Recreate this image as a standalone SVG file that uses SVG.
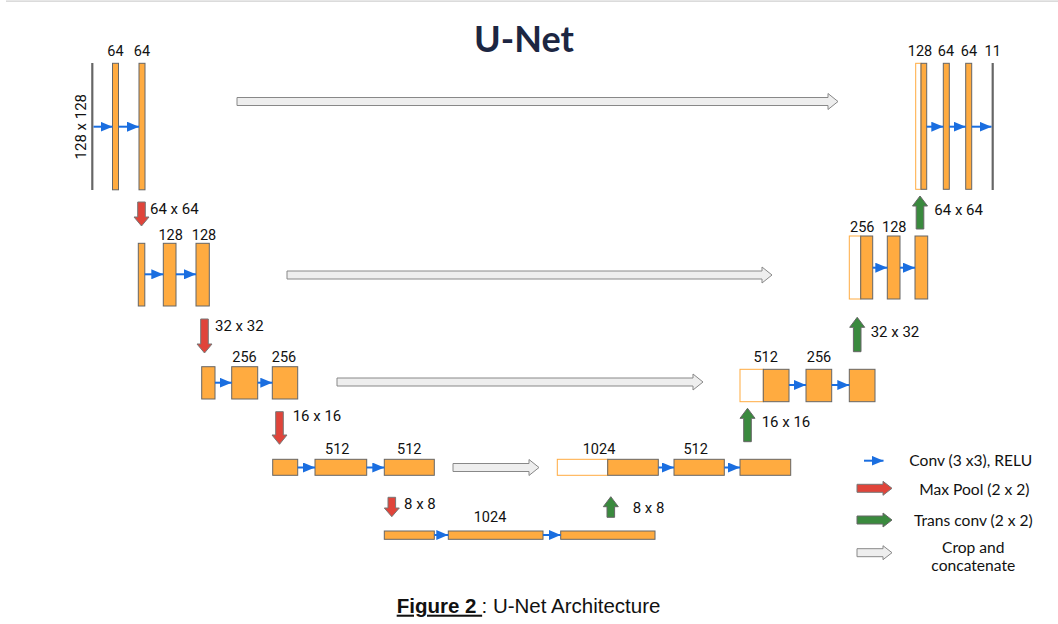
<svg xmlns="http://www.w3.org/2000/svg" width="1058" height="624" viewBox="0 0 1058 624">
<defs>
<style>
.bar{fill:#ffab40;stroke:#666;stroke-width:1}
.cat{fill:#fff;stroke:#ffab40;stroke-width:1}
.io{stroke:#666;stroke-width:2.2}
.conv{stroke:#1a6ee0;stroke-width:2;fill:none;marker-end:url(#ah)}
.pool{fill:#e0443a;stroke:#777;stroke-width:1}
.up{fill:#3a8a3e;stroke:#666;stroke-width:1}
.crop{fill:#eeeeee;stroke:#888;stroke-width:1}
.ch{font-family:Roboto,"Liberation Sans",sans-serif;font-size:14.5px;fill:#111;text-anchor:middle}
.dim{font-family:Roboto,"Liberation Sans",sans-serif;font-size:15px;fill:#111}
.leg{font-family:Lato,"Liberation Sans",sans-serif;font-size:15.6px;fill:#111}
</style>
<marker id="ah" viewBox="0 0 12 10" refX="12" refY="5" markerWidth="12" markerHeight="10" markerUnits="userSpaceOnUse" orient="auto"><path d="M0,0 L12,5 L0,10 Z" fill="#1a6ee0"/></marker>
</defs>
<rect width="1058" height="624" fill="#fff"/>
<line x1="6" y1="1.2" x2="1058" y2="1.2" stroke="#cfcfcf" stroke-width="1.2"/>
<text x="524" y="51.5" font-family="Lato,'Liberation Sans',sans-serif" font-size="36" font-weight="bold" fill="#1c2642" text-anchor="middle">U-Net</text>

<g id="enc1">
<line class="io" x1="92.3" y1="63" x2="92.3" y2="190"/>
<rect class="bar" x="112.5" y="63.3" width="6" height="126.5"/>
<rect class="bar" x="139" y="63.3" width="6" height="126.5"/>
<text class="ch" x="115.5" y="56">64</text>
<text class="ch" x="142" y="56">64</text>
<text class="dim" transform="translate(86,126.7) rotate(-90)" text-anchor="middle">128 x 128</text>
</g>
<g id="enc2">
<rect class="bar" x="138.3" y="243.3" width="6.5" height="62.7"/>
<rect class="bar" x="163.3" y="243.3" width="12.7" height="62.7"/>
<rect class="bar" x="196" y="243.3" width="13.3" height="62.7"/>
<text class="ch" x="170.7" y="240">128</text>
<text class="ch" x="204" y="240">128</text>
</g>
<g id="enc3">
<rect class="bar" x="201.7" y="366.7" width="13.3" height="32.3"/>
<rect class="bar" x="231.7" y="366.7" width="26" height="32.3"/>
<rect class="bar" x="272.3" y="366.7" width="25.4" height="32.3"/>
<text class="ch" x="244.5" y="361.7">256</text>
<text class="ch" x="284" y="361.7">256</text>
</g>
<g id="enc4">
<rect class="bar" x="272.7" y="459.3" width="25" height="16"/>
<rect class="bar" x="315" y="459.3" width="51.7" height="16"/>
<rect class="bar" x="384.3" y="459.3" width="50" height="16"/>
<text class="ch" x="337.3" y="454.3">512</text>
<text class="ch" x="409.3" y="454.3">512</text>
</g>
<g id="bottleneck">
<rect class="bar" x="384.3" y="531" width="50" height="8.3"/>
<rect class="bar" x="448.3" y="531" width="94.7" height="8.3"/>
<rect class="bar" x="560.7" y="531" width="94.3" height="8.3"/>
<text class="ch" x="490" y="521.7">1024</text>
</g>
<g id="dec4">
<rect class="cat" x="557.3" y="459.3" width="50.4" height="16"/>
<rect class="bar" x="607.7" y="459.3" width="50.6" height="16"/>
<rect class="bar" x="674" y="459.3" width="50.3" height="16"/>
<rect class="bar" x="740" y="459.3" width="50.7" height="16"/>
<text class="ch" x="599" y="454">1024</text>
<text class="ch" x="695.7" y="454">512</text>
</g>
<g id="dec3">
<rect class="cat" x="740" y="369.3" width="23.3" height="32.4"/>
<rect class="bar" x="763.3" y="369.3" width="25.7" height="32.4"/>
<rect class="bar" x="806" y="369.3" width="25.7" height="32.4"/>
<rect class="bar" x="849.3" y="369.3" width="25.7" height="32.4"/>
<text class="ch" x="765.7" y="361.7">512</text>
<text class="ch" x="819" y="361.7">256</text>
</g>
<g id="dec2">
<rect class="cat" x="849.3" y="236" width="11.4" height="63"/>
<rect class="bar" x="860.7" y="236" width="12" height="63"/>
<rect class="bar" x="887.3" y="236" width="12.7" height="63"/>
<rect class="bar" x="915" y="236" width="12.7" height="63"/>
<text class="ch" x="862.3" y="231.7">256</text>
<text class="ch" x="894.3" y="231.7">128</text>
</g>
<g id="dec1">
<rect class="cat" x="915.7" y="63.3" width="5.3" height="126"/>
<rect class="bar" x="921" y="63.3" width="5.7" height="126"/>
<rect class="bar" x="943.3" y="63.3" width="6" height="126"/>
<rect class="bar" x="965.7" y="63.3" width="6" height="126"/>
<line class="io" x1="992.7" y1="63" x2="992.7" y2="190"/>
<text class="ch" x="920" y="56">128</text>
<text class="ch" x="946" y="56">64</text>
<text class="ch" x="969" y="56">64</text>
<text class="ch" x="992.7" y="56">11</text>
</g>

<g id="connectors">
<line class="conv" x1="93.5" y1="126.7" x2="112.5" y2="126.7"/>
<line class="conv" x1="118.5" y1="126.7" x2="139" y2="126.7"/>
<line class="conv" x1="144.8" y1="274.3" x2="163.3" y2="274.3"/>
<line class="conv" x1="176" y1="274.3" x2="196" y2="274.3"/>
<line class="conv" x1="215" y1="382.7" x2="231.7" y2="382.7"/>
<line class="conv" x1="257.7" y1="382.7" x2="272.3" y2="382.7"/>
<line class="conv" x1="297.7" y1="467.5" x2="315" y2="467.5"/>
<line class="conv" x1="366.7" y1="467.5" x2="384.3" y2="467.5"/>
<line class="conv" x1="434.3" y1="535" x2="448.3" y2="535"/>
<line class="conv" x1="543" y1="535" x2="560.7" y2="535"/>
<line class="conv" x1="658.3" y1="467.5" x2="674" y2="467.5"/>
<line class="conv" x1="724.3" y1="467.5" x2="740" y2="467.5"/>
<line class="conv" x1="789" y1="385" x2="806" y2="385"/>
<line class="conv" x1="831.7" y1="385" x2="849.3" y2="385"/>
<line class="conv" x1="872.7" y1="267.7" x2="887.3" y2="267.7"/>
<line class="conv" x1="900" y1="267.7" x2="915" y2="267.7"/>
<line class="conv" x1="926.7" y1="126.7" x2="943.3" y2="126.7"/>
<line class="conv" x1="949.3" y1="126.7" x2="965.7" y2="126.7"/>
<line class="conv" x1="971.7" y1="126.7" x2="991.5" y2="126.7"/>

<path class="pool" d="M137.7,202 H145.3 V217 H149 L141.5,226 L134,217 H137.7 Z"/>
<path class="pool" d="M200.7,319 H208.3 V344 H212 L204.5,353 L197,344 H200.7 Z"/>
<path class="pool" d="M275.7,411.7 H283.3 V435 H287 L279.5,444.3 L272,435 H275.7 Z"/>
<path class="pool" d="M388,497.3 H395.6 V508 H399.3 L391.8,516.7 L384.3,508 H388 Z"/>

<path class="up" d="M607,517.3 H614.6 V506.7 H618.3 L610.8,496.7 L603.3,506.7 H607 Z"/>
<path class="up" d="M743.7,441.7 H751.3 V418.3 H755 L747.5,408.3 L740,418.3 H743.7 Z"/>
<path class="up" d="M853.4,351.7 H861 V327.3 H864.7 L857.2,317.3 L849.7,327.3 H853.4 Z"/>
<path class="up" d="M916.2,229 H923.8 V206 H927.5 L920,196 L912.5,206 H916.2 Z"/>

<path class="crop" d="M237,97.5 H828 V93.5 L838,101.5 L828,109.5 V105.5 H237 Z"/>
<path class="crop" d="M287,271 H762 V267 L772,275 L762,283 V279 H287 Z"/>
<path class="crop" d="M337,378 H693 V374 L703,382 L693,390 V386 H337 Z"/>
<path class="crop" d="M453,463.5 H529 V459.5 L539,467.5 L529,475.5 V471.5 H453 Z"/>

<text class="dim" x="150" y="214">64 x 64</text>
<text class="dim" x="215" y="330.7">32 x 32</text>
<text class="dim" x="292.7" y="420.7">16 x 16</text>
<text class="dim" x="404" y="509">8 x 8</text>
<text class="dim" x="632.7" y="513.3">8 x 8</text>
<text class="dim" x="761.7" y="426.7">16 x 16</text>
<text class="dim" x="870.7" y="337.3">32 x 32</text>
<text class="dim" x="934.3" y="215">64 x 64</text>
</g>

<g id="legend">
<line class="conv" x1="864" y1="460.7" x2="883.5" y2="460.7"/>
<text class="leg" x="909.3" y="466">Conv (3 x3), RELU</text>
<path class="pool" d="M857,484.3 H883 V481.3 L892,488.3 L883,495.3 V492.3 H857 Z"/>
<text class="leg" x="919.3" y="495">Max Pool (2 x 2)</text>
<path class="up" d="M857,516 H883 V513 L892,520 L883,527 V524 H857 Z"/>
<text class="leg" x="914" y="526">Trans conv (2 x 2)</text>
<path class="crop" d="M857,548.7 H883 V545.7 L892,552.7 L883,559.7 V556.7 H857 Z"/>
<text class="leg" x="973.3" y="552.7" text-anchor="middle">Crop and</text>
<text class="leg" x="973.3" y="570.5" text-anchor="middle">concatenate</text>
</g>

<text x="396.7" y="612.7" font-family="'Liberation Sans',Arial,sans-serif" font-size="20.5" fill="#111"><tspan font-weight="bold" text-decoration="underline">Figure 2 </tspan><tspan x="481.5"> : U-Net Architecture</tspan></text>
</svg>
